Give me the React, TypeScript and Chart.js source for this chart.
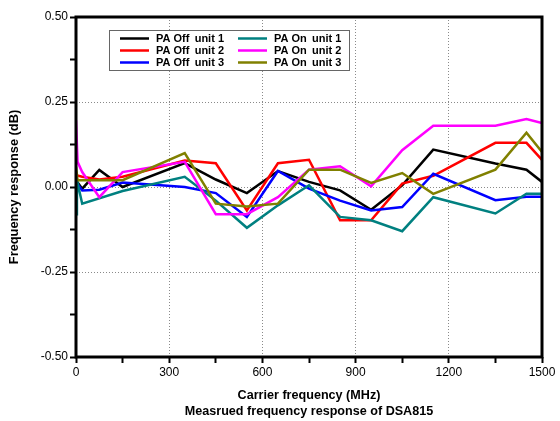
import React, { useEffect, useRef } from 'react';
import Chart from 'chart.js/auto';

// Frequencies (MHz) and measured responses (dB) per unit
const offUnit1Freq = [0, 20, 75, 150, 350, 450, 550, 650, 750, 850, 950, 1050, 1150, 1350, 1450, 1500];
const offUnit1Vals = [0.02, -0.005, 0.05, 0.0, 0.07, 0.022, -0.018, 0.047, 0.015, -0.01, -0.067, 0.005, 0.11, 0.069, 0.051, 0.015];

const offUnit2Freq = [0, 20, 75, 150, 350, 450, 550, 650, 750, 850, 950, 1050, 1150, 1350, 1450, 1500];
const offUnit2Vals = [0.035, 0.03, 0.022, 0.03, 0.078, 0.07, -0.069, 0.07, 0.08, -0.098, -0.098, 0.01, 0.033, 0.13, 0.13, 0.08];

const offUnit3Freq = [0, 20, 75, 150, 350, 450, 550, 650, 750, 850, 950, 1050, 1150, 1350, 1450, 1500];
const offUnit3Vals = [0.015, -0.01, -0.008, 0.013, 0.0, -0.018, -0.088, 0.047, -0.005, -0.04, -0.069, -0.059, 0.039, -0.039, -0.029, -0.029];

const onUnit1Freq = [0, 3, 20, 150, 350, 450, 550, 650, 750, 850, 950, 1050, 1150, 1350, 1450, 1500];
const onUnit1Vals = [-0.08, 0.02, -0.049, -0.012, 0.03, -0.04, -0.12, -0.054, 0.005, -0.088, -0.098, -0.13, -0.03, -0.078, -0.02, -0.02];

const onUnit2Freq = [0, 5, 20, 75, 150, 350, 450, 550, 650, 750, 850, 950, 1050, 1150, 1350, 1450, 1500];
const onUnit2Vals = [0.196, 0.074, 0.044, -0.03, 0.044, 0.074, -0.08, -0.08, -0.03, 0.051, 0.061, 0.002, 0.108, 0.18, 0.18, 0.2, 0.188];

const onUnit3Freq = [0, 5, 150, 350, 450, 550, 650, 750, 850, 950, 1050, 1150, 1350, 1450, 1500];
const onUnit3Vals = [0.06, 0.02, 0.02, 0.1, -0.049, -0.057, -0.049, 0.051, 0.051, 0.012, 0.041, -0.02, 0.051, 0.16, 0.103];

const seriesLabels = ['PA Off  unit 1', 'PA Off  unit 2', 'PA Off  unit 3', 'PA On  unit 1', 'PA On  unit 2', 'PA On  unit 3'];
const seriesColors = ['#000000', '#ff0000', '#0000ff', '#008080', '#ff00ff', '#808000'];

const xTitle = ['Carrier frequency (MHz)', 'Measrued frequency response of DSA815'];
const yTitle = 'Frequency response (dB)';

const FONT = "'Liberation Sans', Arial, sans-serif";

const toPoints = (xs: number[], ys: number[]) => xs.map((x, i) => ({ x, y: ys[i] }));

const isMajorY = (v: number) => Math.abs(v * 4 - Math.round(v * 4)) < 1e-6;

const framePlugin = {
    id: 'frameAndLegend',
    afterDraw(chart: any) {
        const { ctx, chartArea } = chart;
        ctx.save();
        ctx.strokeStyle = '#000';
        ctx.lineWidth = 3;
        ctx.strokeRect(chartArea.left, chartArea.top, chartArea.right - chartArea.left, chartArea.bottom - chartArea.top);

        // legend box
        const bx = 109.5;
        const by = 30.5;
        ctx.fillStyle = '#fff';
        ctx.fillRect(bx, by, 240, 40);
        ctx.strokeStyle = '#666';
        ctx.lineWidth = 1;
        ctx.strokeRect(bx, by, 240, 40);
        ctx.font = `bold 11px ${FONT}`;
        ctx.textBaseline = 'middle';
        chart.data.datasets.forEach((ds: any) => {
            const idx = seriesLabels.indexOf(ds.label);
            const col = Math.floor(idx / 3);
            const row = idx % 3;
            const lx = col === 0 ? 120 : 238;
            const ly = 38.5 + row * 12;
            ctx.strokeStyle = ds.borderColor;
            ctx.lineWidth = 2.5;
            ctx.beginPath();
            ctx.moveTo(lx, ly);
            ctx.lineTo(lx + 29, ly);
            ctx.stroke();
            ctx.fillStyle = '#000';
            ctx.fillText(ds.label.replace('  ', ' \u2009'), lx + 36, ly + 0.5);
        });
        ctx.restore();
    },
};

const App: React.FC = () => {
    const chartRef = useRef<HTMLCanvasElement>(null);
    const chartInstance = useRef<Chart | null>(null);

    useEffect(() => {
        document.body.style.margin = '0';
        if (!chartRef.current) return;
        if (chartInstance.current) chartInstance.current.destroy();
        const ctx = chartRef.current.getContext('2d');
        if (!ctx) return;

        const allX = [offUnit1Freq, offUnit2Freq, offUnit3Freq, onUnit1Freq, onUnit2Freq, onUnit3Freq];
        const allY = [offUnit1Vals, offUnit2Vals, offUnit3Vals, onUnit1Vals, onUnit2Vals, onUnit3Vals];
        // draw order: olive on top, black at bottom
        const drawOrder = [5, 4, 3, 2, 1, 0];

        chartInstance.current = new Chart(ctx, {
            type: 'line',
            data: {
                datasets: seriesLabels.map((label, i) => ({
                    label,
                    data: toPoints(allX[i], allY[i]),
                    borderColor: seriesColors[i],
                    backgroundColor: seriesColors[i],
                    borderWidth: 2.5,
                    pointRadius: 0,
                    tension: 0,
                    fill: false,
                    order: drawOrder[i],
                })),
            },
            options: {
                responsive: false,
                animation: false,
                layout: { padding: { top: 17, right: 18, left: 0, bottom: 0 } },
                plugins: {
                    legend: { display: false },
                    tooltip: { enabled: false },
                },
                scales: {
                    x: {
                        type: 'linear',
                        min: 0,
                        max: 1500,
                        afterFit: (scale: any) => {
                            scale.height = 64;
                        },
                        ticks: {
                            stepSize: 150,
                            autoSkip: false,
                            maxRotation: 0,
                            padding: 2,
                            color: '#000',
                            font: { family: FONT, size: 12 },
                            callback: (v: any) => (Number(v) % 300 === 0 ? String(v) : ''),
                        },
                        grid: {
                            color: (c: any) => {
                                const v = c.tick ? c.tick.value : 0;
                                return v % 300 === 0 && v > 0 && v < 1500 ? '#8a8a8a' : 'rgba(0,0,0,0)';
                            },
                            lineWidth: 1,
                            tickColor: '#000',
                            tickLength: 6,
                            tickWidth: 2,
                        },
                        border: { display: false, dash: [1, 2] },
                        title: {
                            display: true,
                            text: xTitle,
                            color: '#000',
                            font: { family: FONT, size: 12.6, weight: 'bold', lineHeight: 1.3 },
                            padding: { top: 2, bottom: 1 },
                        },
                    },
                    y: {
                        type: 'linear',
                        min: -0.5,
                        max: 0.5,
                        afterFit: (scale: any) => {
                            scale.width = 76;
                        },
                        ticks: {
                            stepSize: 0.125,
                            autoSkip: false,
                            padding: 2,
                            color: '#000',
                            font: { family: FONT, size: 12 },
                            callback: (v: any) => (isMajorY(Number(v)) ? Number(v).toFixed(2) : ''),
                        },
                        grid: {
                            color: (c: any) => {
                                const v = c.tick ? c.tick.value : 0;
                                return isMajorY(v) && Math.abs(v) < 0.49 ? '#8a8a8a' : 'rgba(0,0,0,0)';
                            },
                            lineWidth: 1,
                            tickColor: '#000',
                            tickLength: 6,
                            tickWidth: 2,
                        },
                        border: { display: false, dash: [1, 2] },
                        title: {
                            display: true,
                            text: yTitle,
                            color: '#000',
                            font: { family: FONT, size: 12.8, weight: 'bold' },
                            padding: { top: 7, bottom: 2 },
                        },
                    },
                },
            },
            plugins: [framePlugin],
        });

        return () => {
            chartInstance.current?.destroy();
            chartInstance.current = null;
        };
    }, []);

    return (
        <div style={{ width: 560, height: 421, background: '#fff' }}>
            <canvas ref={chartRef} width={560} height={421}></canvas>
        </div>
    );
};

export default App;
